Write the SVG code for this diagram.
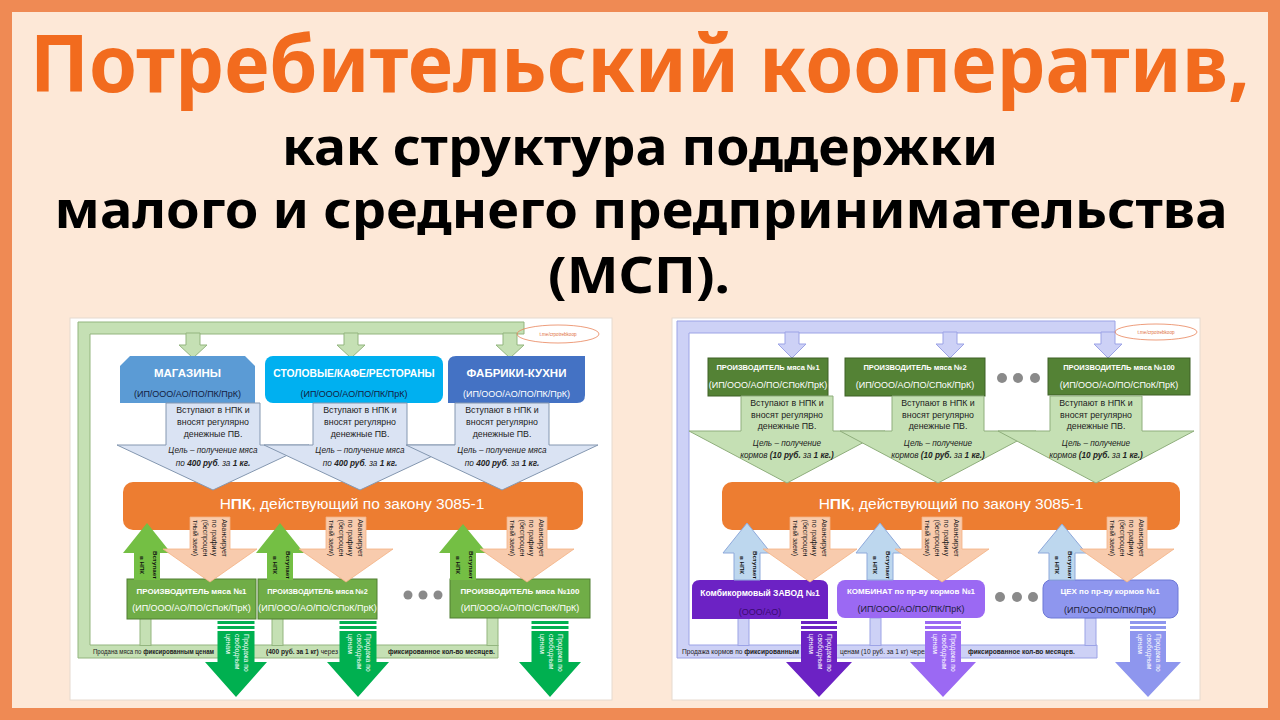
<svg xmlns="http://www.w3.org/2000/svg" width="1280" height="720" viewBox="0 0 1280 720">
<style>
text{font-family:"Liberation Sans",Arial,sans-serif}
.t{font-family:"Noto Sans","DejaVu Sans",sans-serif;font-weight:bold}
.fr{fill:#C5E0B4;stroke:#93B57F;stroke-width:1}
.frp{fill:#CDD1F6;stroke:#9CA3E6;stroke-width:1}
.cb{fill:#DAE3F3;stroke:#8497B0;stroke-width:1}
.cg{fill:#C5E0B4;stroke:#8FAE7C;stroke-width:1}
.pe{fill:#F8CBAD;stroke:#F4B183;stroke-width:0.8}
.gu{fill:#74BF44}
.bu{fill:#BDD7EE;stroke:#8EA9DB;stroke-width:1}
.pg{fill:#70AD47;stroke:#507E32;stroke-width:1}
.dg{fill:#548235;stroke:#3E6127;stroke-width:1}
.npk{fill:#ED7D31}
.ct{font-size:8.8px;fill:#222;text-anchor:middle}
.ci{font-size:8.2px;fill:#222;text-anchor:middle;font-style:italic}
.wb{fill:#fff;font-weight:bold;text-anchor:middle}
.sm{font-size:9px;text-anchor:middle}
.vt{font-size:7px;text-anchor:middle;fill:#222}
.vb{font-size:6.2px;font-weight:bold;text-anchor:middle;fill:#111}
.vw{font-size:6.8px;fill:#fff}
.bt{font-size:6.6px;fill:#222}
.nt{font-size:15.5px;fill:#fff}
.lk{font-size:4.6px;fill:#E0703A;text-anchor:middle}
.el{fill:none;stroke:#E8845A;stroke-width:0.8}
.dot{fill:#8A8A8A}
</style>

<rect width="1280" height="720" fill="#EF8A54"/>
<rect x="12" y="12" width="1256" height="696" fill="#FDE8D7"/>

<g id="title">
<text class="t" x="640" y="92" font-size="78" fill="#F26B1E" text-anchor="middle" textLength="1220" lengthAdjust="spacingAndGlyphs">Потребительский кооператив,</text>
<text class="t" x="640" y="165" font-size="50" fill="#000" text-anchor="middle" textLength="716" lengthAdjust="spacingAndGlyphs">как структура поддержки</text>
<text class="t" x="641" y="228" font-size="50" fill="#000" text-anchor="middle" textLength="1173" lengthAdjust="spacingAndGlyphs">малого и среднего предпринимательства</text>
<text class="t" x="639" y="293" font-size="50" fill="#000" text-anchor="middle" textLength="182" lengthAdjust="spacingAndGlyphs">(МСП).</text>
</g>

<rect x="70" y="318" width="542" height="382" fill="#fff" stroke="#E6DAD0"/>
<rect x="672" y="318" width="528" height="382" fill="#fff" stroke="#E6DAD0"/>

<!-- LEFT DIAGRAM -->
<g id="left-connectors">
<path class="fr" d="M78,322 H524 V334 H90 V645 H498 V658 H78 Z"/>
<path class="fr" d="M186,333 V345 H179 L193,358 L207,345 H200 V333 Z"/>
<path class="fr" d="M344,333 V345 H337 L351,358 L365,345 H358 V333 Z"/>
<path class="fr" d="M503,333 V345 H496 L510,358 L524,345 H517 V333 Z"/>
<rect class="fr" x="140" y="618" width="11" height="27.5"/>
<rect class="fr" x="272" y="618" width="11" height="27.5"/>
<rect class="fr" x="487" y="617" width="11" height="28.5"/>
<text class="bt" x="93" y="654" font-size="6.2" textLength="121" lengthAdjust="spacingAndGlyphs">Продана мяса по <tspan font-weight="bold">фиксированным ценам</tspan></text>
<text class="bt" x="266" y="654" font-size="4.8"><tspan font-weight="bold">(400 руб. за 1 кг)</tspan> через</text>
<text class="bt" x="388" y="654" font-size="6.3" font-weight="bold">фиксированное кол-во месяцев.</text>
<ellipse class="el" cx="558" cy="334" rx="41" ry="9"/>
<text class="lk" x="558" y="336">t.me/crpotrebkoop</text>
</g>

<g id="l-magaziny">
<path fill="#5B9BD5" d="M120,366 L130,356 H245 L255,366 V403 H120 Z"/>
<text class="wb" x="187.5" y="377" font-size="11.5">МАГАЗИНЫ</text>
<text class="sm" x="187.5" y="397" font-size="9.7" fill="#13213F">(ИП/ООО/АО/ПО/ПК/ПрК)</text>
</g>
<g id="l-stolovye">
<rect x="265" y="356" width="178" height="47" rx="8" fill="#00B0F0"/>
<text class="wb" x="354" y="377" font-size="10.3">СТОЛОВЫЕ/КАФЕ/РЕСТОРАНЫ</text>
<text class="sm" x="354" y="397" font-size="9.7" fill="#13213F">(ИП/ООО/АО/ПО/ПК/ПрК)</text>
</g>
<g id="l-fabriki">
<path fill="#4472C4" d="M456,356 H585 V395 Q585,403 577,403 H448 V364 Q448,356 456,356 Z"/>
<text class="wb" x="516.5" y="377" font-size="11.5">ФАБРИКИ-КУХНИ</text>
<text class="sm" x="516.5" y="397" font-size="9.7" fill="#fff">(ИП/ООО/АО/ПО/ПК/ПрК)</text>
</g>

<g id="l-npk">
<rect class="npk" x="123" y="482" width="460" height="48" rx="10"/>
<text class="nt" x="352" y="509" text-anchor="middle">Н<tspan font-weight="bold">ПК</tspan>, действующий по закону 3085-1</text>
</g>

<g id="l-callout1">
<path class="cb" d="M166,403 H260 V445 H309 L213,490 L117,445 H166 Z"/>
<text class="ct" x="213" y="413">Вступают в НПК и</text>
<text class="ct" x="213" y="425">вносят регулярно</text>
<text class="ct" x="213" y="437">денежные ПВ.</text>
<text class="ci" x="213" y="453">Цель – получение мяса</text>
<text class="ci" x="213" y="466">по <tspan font-weight="bold">400 руб</tspan>. за <tspan font-weight="bold">1 кг.</tspan></text>
</g>
<g id="l-callout2">
<path class="cb" d="M313,403 H407 V445 H456 L360,490 L264,445 H313 Z"/>
<text class="ct" x="360" y="413">Вступают в НПК и</text>
<text class="ct" x="360" y="425">вносят регулярно</text>
<text class="ct" x="360" y="437">денежные ПВ.</text>
<text class="ci" x="360" y="453">Цель – получение мяса</text>
<text class="ci" x="360" y="466">по <tspan font-weight="bold">400 руб</tspan>. за <tspan font-weight="bold">1 кг.</tspan></text>
</g>
<g id="l-callout3">
<path class="cb" d="M455,403 H549 V445 H598 L502,490 L406,445 H455 Z"/>
<text class="ct" x="502" y="413">Вступают в НПК и</text>
<text class="ct" x="502" y="425">вносят регулярно</text>
<text class="ct" x="502" y="437">денежные ПВ.</text>
<text class="ci" x="502" y="453">Цель – получение мяса</text>
<text class="ci" x="502" y="466">по <tspan font-weight="bold">400 руб</tspan>. за <tspan font-weight="bold">1 кг.</tspan></text>
</g>

<g id="l-prod1">
<rect class="pg" x="127" y="579" width="129" height="40"/>
<text class="wb" x="191.5" y="594" font-size="8">ПРОИЗВОДИТЕЛЬ мяса №1</text>
<text class="sm" x="191.5" y="611" fill="#fff">(ИП/ООО/АО/ПО/СПоК/ПрК)</text>
</g>
<g id="l-prod2">
<rect class="pg" x="258" y="579" width="119" height="40"/>
<text class="wb" x="317.5" y="594" font-size="7.3">ПРОИЗВОДИТЕЛЬ мяса №2</text>
<text class="sm" x="317.5" y="611" font-size="7.9" fill="#fff">(ИП/ООО/АО/ПО/СПоК/ПрК)</text>
</g>
<g id="l-dots">
<circle class="dot" cx="408" cy="595" r="4.5"/><circle class="dot" cx="423" cy="595" r="4.5"/><circle class="dot" cx="438" cy="595" r="4.5"/>
</g>
<g id="l-prod100">
<rect class="pg" x="450" y="579" width="140" height="39"/>
<text class="wb" x="520" y="594" font-size="8">ПРОИЗВОДИТЕЛЬ мяса №100</text>
<text class="sm" x="520" y="611" fill="#fff">(ИП/ООО/АО/ПО/СПоК/ПрК)</text>
</g>

<g id="l-up-arrows">
<path class="gu" d="M134,580 V553 H123 L147,523 L171,553 H160 V580 Z"/>
<path class="gu" d="M267,580 V553 H256 L280,523 L304,553 H293 V580 Z"/>
<path class="gu" d="M450,580 V553 H439 L463,524 L487,553 H476 V580 Z"/>
<g transform="translate(147,565) rotate(90)"><text class="vb" y="-5.5">Вступает</text><text class="vb" y="7">в НПК</text></g>
<g transform="translate(280,565) rotate(90)"><text class="vb" y="-5.5">Вступает</text><text class="vb" y="7">в НПК</text></g>
<g transform="translate(463,565) rotate(90)"><text class="vb" y="-5.5">Вступает</text><text class="vb" y="7">в НПК</text></g>
</g>
<g id="l-down-arrows">
<path class="pe" d="M190,517 H230 V549 H257 L210,582 L163,549 H190 Z"/>
<path class="pe" d="M326,517 H366 V549 H393 L346,582 L299,549 H326 Z"/>
<path class="pe" d="M507,517 H547 V549 H574 L527,582 L480,549 H507 Z"/>
<g transform="translate(210,538) rotate(90)"><text class="vt" y="-11.5">Авансирует</text><text class="vt" y="-2">по графику</text><text class="vt" y="7.5">(беспроцен</text><text class="vt" y="17">тный заем)</text></g>
<g transform="translate(346,538) rotate(90)"><text class="vt" y="-11.5">Авансирует</text><text class="vt" y="-2">по графику</text><text class="vt" y="7.5">(беспроцен</text><text class="vt" y="17">тный заем)</text></g>
<g transform="translate(527,538) rotate(90)"><text class="vt" y="-11.5">Авансирует</text><text class="vt" y="-2">по графику</text><text class="vt" y="7.5">(беспроцен</text><text class="vt" y="17">тный заем)</text></g>
</g>
<g id="l-sale-arrows" fill="#00B050">
<rect x="217.5" y="621" width="37" height="3"/><rect x="217.5" y="626" width="37" height="3"/>
<path d="M217.5,631 H254.5 V662 H267 L236,697 L205,662 H217.5 Z"/>
<rect x="339.5" y="621" width="37" height="3"/><rect x="339.5" y="626" width="37" height="3"/>
<path d="M339.5,631 H376.5 V662 H389 L358,697 L327,662 H339.5 Z"/>
<rect x="531.5" y="621" width="37" height="3"/><rect x="531.5" y="626" width="37" height="3"/>
<path d="M531.5,631 H568.5 V662 H581 L550,697 L519,662 H531.5 Z"/>
<g transform="translate(236,634) rotate(90)"><text class="vw" y="-7.5">Продажа по</text><text class="vw" y="1.5">свободным</text><text class="vw" y="10.5">ценам</text></g>
<g transform="translate(358,634) rotate(90)"><text class="vw" y="-7.5">Продажа по</text><text class="vw" y="1.5">свободным</text><text class="vw" y="10.5">ценам</text></g>
<g transform="translate(550,634) rotate(90)"><text class="vw" y="-7.5">Продажа по</text><text class="vw" y="1.5">свободным</text><text class="vw" y="10.5">ценам</text></g>
</g>

<!-- RIGHT DIAGRAM -->
<g id="right-connectors">
<path class="frp" d="M677,321 H1115 V333 H689 V645 H1097 V658 H677 Z"/>
<path class="frp" d="M785,332 V344 H778 L792,358 L806,344 H799 V332 Z"/>
<path class="frp" d="M943,332 V344 H936 L950,358 L964,344 H957 V332 Z"/>
<path class="frp" d="M1101,332 V344 H1094 L1108,358 L1122,344 H1115 V332 Z"/>
<rect class="frp" x="738" y="618" width="11" height="27.5"/>
<rect class="frp" x="870" y="618" width="11" height="27.5"/>
<rect class="frp" x="1085" y="618" width="11" height="27.5"/>
<text class="bt" x="682" y="654" font-size="6.4">Продажа кормов по <tspan font-weight="bold">фиксированным</tspan></text>
<text class="bt" x="840" y="654" font-size="6.4">ценам (10 руб. за 1 кг) через</text>
<text class="bt" x="968" y="654" font-size="6.4" font-weight="bold">фиксированное кол-во месяцев.</text>
<ellipse class="el" cx="1156" cy="332" rx="41" ry="8"/>
<text class="lk" x="1156" y="334">t.me/crpotrebkoop</text>
</g>

<g id="r-prod1">
<rect class="dg" x="708" y="358" width="120" height="38"/>
<text class="wb" x="768" y="369.5" font-size="7.5">ПРОИЗВОДИТЕЛЬ мяса №1</text>
<text class="sm" x="768" y="388" font-size="8.5" fill="#fff">(ИП/ООО/АО/ПО/СПоК/ПрК)</text>
</g>
<g id="r-prod2">
<rect class="dg" x="845" y="358" width="140" height="38"/>
<text class="wb" x="915" y="369.5" font-size="7.5">ПРОИЗВОДИТЕЛЬ мяса №2</text>
<text class="sm" x="915" y="388" font-size="8.5" fill="#fff">(ИП/ООО/АО/ПО/СПоК/ПрК)</text>
</g>
<g id="r-dots1">
<circle class="dot" cx="1002" cy="378" r="5"/><circle class="dot" cx="1018" cy="378" r="5"/><circle class="dot" cx="1035" cy="378" r="5"/>
</g>
<g id="r-prod100">
<rect class="dg" x="1048" y="358" width="142" height="37"/>
<text class="wb" x="1119" y="369.5" font-size="7.5">ПРОИЗВОДИТЕЛЬ мяса №100</text>
<text class="sm" x="1119" y="388" font-size="8.5" fill="#fff">(ИП/ООО/АО/ПО/СПоК/ПрК)</text>
</g>

<g id="r-npk">
<rect class="npk" x="722" y="482" width="458" height="48" rx="10"/>
<text class="nt" x="951" y="509" text-anchor="middle">Н<tspan font-weight="bold">ПК</tspan>, действующий по закону 3085-1</text>
</g>

<g id="r-callout1">
<path class="cg" d="M741,396 H833 V431 H885 L787,483 L689,431 H741 Z"/>
<text class="ct" x="787" y="406">Вступают в НПК и</text>
<text class="ct" x="787" y="418">вносят регулярно</text>
<text class="ct" x="787" y="429">денежные ПВ.</text>
<text class="ci" x="787" y="446">Цель – получение</text>
<text class="ci" x="787" y="458">кормов <tspan font-weight="bold">(10 руб.</tspan> за <tspan font-weight="bold">1 кг.)</tspan></text>
</g>
<g id="r-callout2">
<path class="cg" d="M892,396 H984 V431 H1036 L938,483 L840,431 H892 Z"/>
<text class="ct" x="938" y="406">Вступают в НПК и</text>
<text class="ct" x="938" y="418">вносят регулярно</text>
<text class="ct" x="938" y="429">денежные ПВ.</text>
<text class="ci" x="938" y="446">Цель – получение</text>
<text class="ci" x="938" y="458">кормов <tspan font-weight="bold">(10 руб.</tspan> за <tspan font-weight="bold">1 кг.)</tspan></text>
</g>
<g id="r-callout3">
<path class="cg" d="M1050,396 H1142 V431 H1194 L1096,483 L998,431 H1050 Z"/>
<text class="ct" x="1096" y="406">Вступают в НПК и</text>
<text class="ct" x="1096" y="418">вносят регулярно</text>
<text class="ct" x="1096" y="429">денежные ПВ.</text>
<text class="ci" x="1096" y="446">Цель – получение</text>
<text class="ci" x="1096" y="458">кормов <tspan font-weight="bold">(10 руб.</tspan> за <tspan font-weight="bold">1 кг.)</tspan></text>
</g>

<g id="r-zavod">
<path fill="#6C22C4" d="M692,619 V588 Q692,580 700,580 H820 Q828,580 828,588 V619 Z"/>
<text class="wb" x="760" y="596" font-size="8.5">Комбикормовый ЗАВОД №1</text>
<text class="sm" x="760" y="615" fill="#3A0A70">(ООО/АО)</text>
</g>
<g id="r-kombinat">
<rect x="837" y="580" width="148" height="38" rx="8" fill="#9B69F3"/>
<text class="wb" x="911" y="593.5" font-size="8">КОМБИНАТ по пр-ву кормов №1</text>
<text class="sm" x="911" y="612" fill="#1E1E3C">(ИП/ООО/АО/ПО/ПК/ПрК)</text>
</g>
<g id="r-dots2">
<circle class="dot" cx="1000" cy="597" r="5"/><circle class="dot" cx="1017" cy="597" r="5"/><circle class="dot" cx="1033" cy="597" r="5"/>
</g>
<g id="r-ceh">
<rect x="1043" y="580" width="135" height="38" rx="8" fill="#8E96EE" stroke="#6D78D6"/>
<text class="wb" x="1110" y="594" font-size="8">ЦЕХ по пр-ву кормов №1</text>
<text class="sm" x="1110" y="613" fill="#1E1E3C">(ИП/ООО/ПО/ПК/ПрК)</text>
</g>

<g id="r-up-arrows">
<path class="bu" d="M734,580 V553 H723 L747,523 L771,553 H760 V580 Z"/>
<path class="bu" d="M867,580 V553 H856 L880,523 L904,553 H893 V580 Z"/>
<path class="bu" d="M1049,580 V553 H1038 L1062,524 L1086,553 H1075 V580 Z"/>
<g transform="translate(747,565) rotate(90)"><text class="vb" y="-5.5">Вступает</text><text class="vb" y="7">в НПК</text></g>
<g transform="translate(880,565) rotate(90)"><text class="vb" y="-5.5">Вступает</text><text class="vb" y="7">в НПК</text></g>
<g transform="translate(1062,565) rotate(90)"><text class="vb" y="-5.5">Вступает</text><text class="vb" y="7">в НПК</text></g>
</g>
<g id="r-down-arrows">
<path class="pe" d="M790,517 H830 V549 H857 L810,582 L763,549 H790 Z"/>
<path class="pe" d="M922,517 H962 V549 H989 L942,582 L895,549 H922 Z"/>
<path class="pe" d="M1107,517 H1147 V549 H1174 L1127,582 L1080,549 H1107 Z"/>
<g transform="translate(810,538) rotate(90)"><text class="vt" y="-11.5">Авансирует</text><text class="vt" y="-2">по графику</text><text class="vt" y="7.5">(беспроцен</text><text class="vt" y="17">тный заем)</text></g>
<g transform="translate(942,538) rotate(90)"><text class="vt" y="-11.5">Авансирует</text><text class="vt" y="-2">по графику</text><text class="vt" y="7.5">(беспроцен</text><text class="vt" y="17">тный заем)</text></g>
<g transform="translate(1127,538) rotate(90)"><text class="vt" y="-11.5">Авансирует</text><text class="vt" y="-2">по графику</text><text class="vt" y="7.5">(беспроцен</text><text class="vt" y="17">тный заем)</text></g>
</g>
<g id="r-sale-arrows">
<g fill="#6C22C4">
<rect x="801" y="621" width="36" height="3"/><rect x="801" y="626" width="36" height="3"/>
<path d="M801,631 H837 V662 H852 L819,697 L786,662 H801 Z"/>
</g>
<g fill="#9B69F3">
<rect x="925" y="621" width="36" height="3"/><rect x="925" y="626" width="36" height="3"/>
<path d="M925,631 H961 V662 H976 L943,697 L910,662 H925 Z"/>
</g>
<g fill="#8E96EE">
<rect x="1130" y="621" width="36" height="3"/><rect x="1130" y="626" width="36" height="3"/>
<path d="M1130,631 H1166 V662 H1181 L1148,697 L1115,662 H1130 Z"/>
</g>
<g transform="translate(819,634) rotate(90)"><text class="vw" y="-7.5">Продажа по</text><text class="vw" y="1.5">свободным</text><text class="vw" y="10.5">ценам</text></g>
<g transform="translate(943,634) rotate(90)"><text class="vw" y="-7.5">Продажа по</text><text class="vw" y="1.5">свободным</text><text class="vw" y="10.5">ценам</text></g>
<g transform="translate(1148,634) rotate(90)"><text class="vw" y="-7.5">Продажа по</text><text class="vw" y="1.5">свободным</text><text class="vw" y="10.5">ценам</text></g>
</g>
</svg>
